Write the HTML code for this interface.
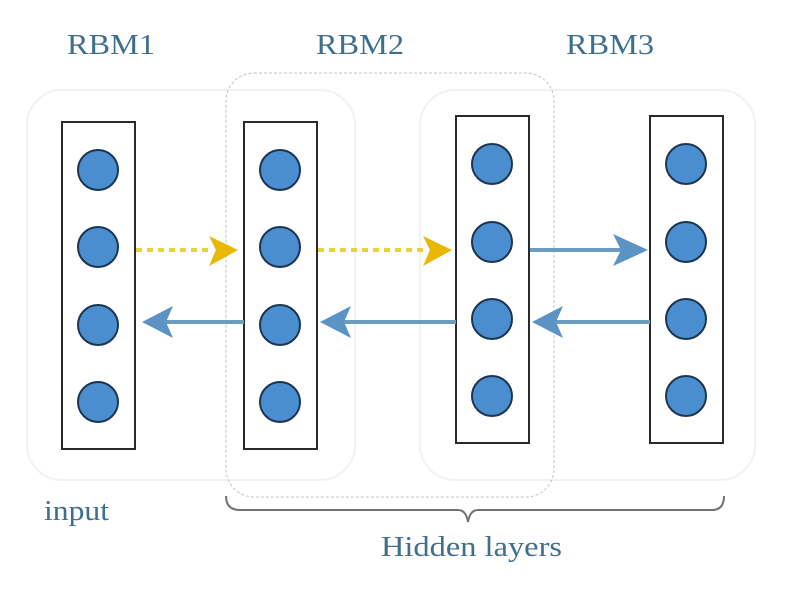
<!DOCTYPE html>
<html><head><meta charset="utf-8"><style>
html,body{margin:0;padding:0;background:#fff;}
svg{display:block;}
text{font-family:"Liberation Serif",serif;fill:#3f6f8c;}
</style></head><body>
<svg width="800" height="591" viewBox="0 0 800 591" xmlns="http://www.w3.org/2000/svg">
<rect width="800" height="591" fill="#fff"/>
<!-- faint group boxes -->
<rect x="27" y="90" width="328" height="390" rx="35" fill="none" stroke="#f0f2f4" stroke-width="2"/>
<rect x="420" y="90" width="335" height="390" rx="35" fill="none" stroke="#f0f2f4" stroke-width="2"/>
<rect x="226" y="73" width="328" height="424" rx="28" fill="none" stroke="#bfc3c8" stroke-width="1" stroke-dasharray="3,2"/>
<!-- labels -->
<text x="67" y="54" font-size="28" textLength="88" lengthAdjust="spacingAndGlyphs">RBM1</text>
<text x="316" y="54" font-size="28" textLength="88" lengthAdjust="spacingAndGlyphs">RBM2</text>
<text x="566" y="54" font-size="28" textLength="88" lengthAdjust="spacingAndGlyphs">RBM3</text>
<text x="44" y="520" font-size="28" textLength="65" lengthAdjust="spacingAndGlyphs">input</text>
<text x="381" y="556" font-size="28" textLength="181" lengthAdjust="spacingAndGlyphs">Hidden layers</text>
<!-- brace -->
<path d="M226 496 Q226 510 240 510 L458 510 Q466 510 468 522 Q470 510 478 510 L712 510 Q724 510 724 496" fill="none" stroke="#707478" stroke-width="2"/>
<!-- layer boxes -->
<g fill="#fff" stroke="#2a2a2a" stroke-width="2">
<rect x="62" y="122" width="73" height="327"/>
<rect x="244" y="122" width="73" height="327"/>
<rect x="456" y="116" width="73" height="327"/>
<rect x="650" y="116" width="73" height="327"/>
</g>
<!-- nodes -->
<g fill="#4a8ed0" stroke="#1c3550" stroke-width="2">
<circle cx="98" cy="170" r="20"/><circle cx="98" cy="247" r="20"/><circle cx="98" cy="325" r="20"/><circle cx="98" cy="402" r="20"/>
<circle cx="280" cy="170" r="20"/><circle cx="280" cy="247" r="20"/><circle cx="280" cy="325" r="20"/><circle cx="280" cy="402" r="20"/>
<circle cx="492" cy="164" r="20"/><circle cx="492" cy="242" r="20"/><circle cx="492" cy="319" r="20"/><circle cx="492" cy="396" r="20"/>
<circle cx="686" cy="164" r="20"/><circle cx="686" cy="242" r="20"/><circle cx="686" cy="319" r="20"/><circle cx="686" cy="396" r="20"/>
</g>
<!-- yellow dashed arrows -->
<g stroke="#e8d43a" stroke-width="4" stroke-dasharray="6,5">
<line x1="136" y1="250" x2="212" y2="250"/>
<line x1="318" y1="250" x2="424" y2="250"/>
</g>
<g fill="#e8b800">
<path d="M238 250 L209 236 L216 250 L209 266 Z"/>
<path d="M452 250 L423 236 L430 250 L423 266 Z"/>
</g>
<!-- blue arrows -->
<g stroke="#6b9cc2" stroke-width="4">
<line x1="530" y1="250" x2="622" y2="250"/>
<line x1="244" y1="322" x2="166" y2="322"/>
<line x1="456" y1="322" x2="344" y2="322"/>
<line x1="650" y1="322" x2="556" y2="322"/>
</g>
<g fill="#5b93c4">
<path d="M648 250 L613 234 L621 250 L613 266 Z"/>
<path d="M142 322 L173 306 L166 322 L173 338 Z"/>
<path d="M320 322 L351 306 L344 322 L351 338 Z"/>
<path d="M532 322 L563 306 L556 322 L563 338 Z"/>
</g>
</svg>
</body></html>
